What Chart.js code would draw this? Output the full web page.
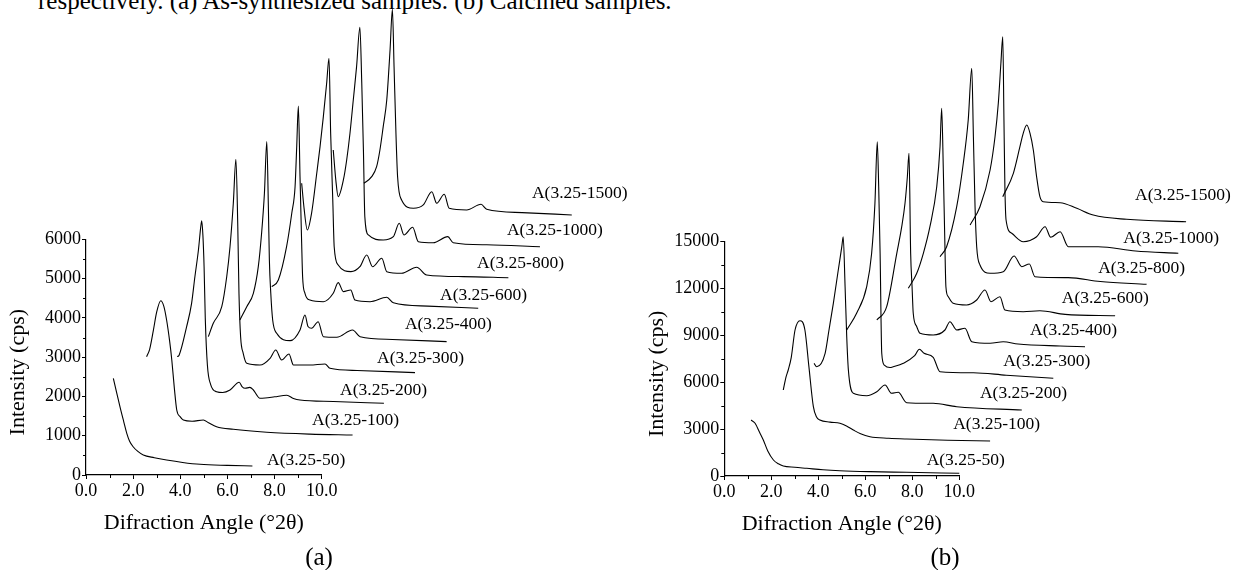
<!DOCTYPE html>
<html>
<head>
<meta charset="utf-8">
<script src="https://cdn.jsdelivr.net/npm/chart.js@4.4.0/dist/chart.umd.min.js"></script>
<style>
  body { margin: 0; background: #fff; width: 1233px; height: 570px; overflow: hidden; position: relative; }
  .cap { position: absolute; left: 38px; top: -12px; font: 25px/1 "Liberation Serif", serif; color: #000; white-space: nowrap; }
  .panel { position: absolute; top: 0; height: 570px; }
</style>
</head>
<body>
<div class="cap">respectively. (a) As-synthesized samples. (b) Calcined samples.</div>
<div class="panel" style="left:0;width:700px"><canvas id="chartA"></canvas></div>
<div class="panel" style="left:616px;width:617px"><canvas id="chartB"></canvas></div>
<script>
// sample names, same for both panels
var names = ['A(3.25-50)', 'A(3.25-100)', 'A(3.25-200)', 'A(3.25-300)', 'A(3.25-400)',
             'A(3.25-600)', 'A(3.25-800)', 'A(3.25-1000)', 'A(3.25-1500)'];

// tick labels
var xTicks = [0, 2, 4, 6, 8, 10];
var yTicksA = [0, 1000, 2000, 3000, 4000, 5000, 6000];
var yTicksB = [0, 3000, 6000, 9000, 12000, 15000];

// (a) as-synthesized, waterfall: [angle, cps]
var a50 = [[1.16,2462],[1.3,2100],[1.44,1740],[1.6,1360],[1.73,1060],[1.85,860],[2.0,720],[2.2,600],[2.43,509],[2.9,440],[3.42,382],[4.1,320],[4.84,272],[6.0,245],[7.06,229]];
var a100 = [[2.57,3012],[2.7,3200],[2.86,3690],[3.0,4150],[3.17,4437],[3.3,4300],[3.42,3946],[3.55,3400],[3.64,2928],[3.75,2200],[3.85,1655],[4.0,1480],[4.13,1400],[4.5,1370],[4.98,1400],[5.2,1330],[5.54,1230],[6.25,1163],[7.67,1087],[9.5,1040],[11.31,1018]];
var a200 = [[3.87,3012],[3.95,3050],[4.27,3776],[4.48,4371],[4.62,5048],[4.77,5728],[4.87,6321],[4.91,6474],[4.96,6100],[5.01,5300],[5.06,4000],[5.15,2800],[5.29,2300],[5.54,2121],[5.8,2100],[6.11,2164],[6.5,2360],[6.62,2250],[6.75,2207],[6.95,2230],[7.1,2164],[7.38,1953],[7.6,1960],[8.0,1990],[8.52,2030],[8.8,1950],[9.08,1909],[10.5,1870],[12.64,1825]];
var a300 = [[5.19,3521],[5.4,3862],[5.76,4285],[5.97,5048],[6.11,5812],[6.25,6917],[6.36,8037],[6.44,6321],[6.49,4626],[6.56,3521],[6.67,3098],[6.82,2844],[7.38,2800],[7.81,2971],[8.05,3182],[8.3,2928],[8.61,3080],[8.8,2800],[9.5,2800],[10.14,2826],[10.35,2716],[11.5,2660],[13.96,2605]];
var a400 = [[6.53,3946],[6.82,4285],[7.1,4626],[7.31,5303],[7.45,6154],[7.57,7172],[7.67,8486],[7.74,6746],[7.78,5473],[7.84,4626],[7.92,3946],[8.09,3607],[8.66,3420],[9.08,3692],[9.29,4073],[9.42,3780],[9.57,3735],[9.85,3903],[10.07,3521],[10.64,3505],[11.31,3692],[11.63,3521],[13.0,3450],[15.3,3394]];
var a600 = [[7.88,4794],[8.16,4964],[8.51,5812],[8.73,6662],[8.87,7340],[8.94,8358],[9.01,9394],[9.08,7594],[9.15,5899],[9.19,5048],[9.29,4626],[9.5,4455],[10.07,4412],[10.49,4626],[10.7,4896],[10.92,4667],[11.23,4710],[11.41,4455],[12.05,4412],[12.76,4524],[13.04,4386],[14.5,4300],[16.64,4244]];
var a800 = [[9.15,7426],[9.25,6800],[9.39,6237],[9.57,6662],[9.79,7681],[9.93,8358],[10.07,9122],[10.21,9972],[10.31,10608],[10.38,8699],[10.47,7001],[10.53,5812],[10.7,5346],[11.24,5176],[11.62,5303],[11.91,5601],[12.16,5303],[12.55,5517],[12.76,5176],[13.39,5135],[14.03,5288],[14.45,5092],[16.0,5050],[17.92,5023]];
var a1000 = [[10.49,8274],[10.6,7500],[10.7,7085],[10.92,7510],[11.06,8019],[11.2,8699],[11.34,9547],[11.48,10395],[11.62,11398],[11.7,9972],[11.77,8274],[11.83,6576],[11.98,6110],[12.61,5983],[13.04,6067],[13.29,6408],[13.49,6110],[13.86,6306],[14.1,5939],[14.73,5914],[15.35,6067],[15.58,5914],[17.0,5860],[19.26,5812]];
var a1500 = [[11.79,7426],[12.12,7594],[12.33,7849],[12.47,8274],[12.61,8868],[12.76,9547],[12.9,10820],[13.0,11856],[13.07,10395],[13.15,8699],[13.22,7594],[13.39,7001],[13.89,6789],[14.31,6874],[14.67,7212],[14.88,6917],[15.2,7146],[15.41,6789],[16.15,6746],[16.76,6891],[17.0,6764],[18.5,6680],[20.61,6619]];

// (b) calcined
var b50 = [[1.14,3585],[1.31,3374],[1.5,2800],[1.66,2305],[1.85,1600],[2.09,1024],[2.3,780],[2.51,640],[3.0,560],[3.51,493],[4.2,400],[4.92,339],[6.2,280],[7.76,237],[10.0,173]];
var b100 = [[2.51,5506],[2.62,6300],[2.72,6786],[2.85,7600],[3.01,9347],[3.22,9943],[3.43,9347],[3.6,7000],[3.79,4437],[3.92,3800],[4.07,3585],[4.5,3450],[4.92,3374],[5.2,3200],[5.49,2945],[5.8,2700],[6.2,2516],[7.0,2420],[7.76,2369],[9.5,2290],[11.31,2241]];
var b200 = [[3.82,7215],[3.93,6997],[4.29,7855],[4.45,9300],[4.64,11056],[4.85,13188],[5.0,14680],[5.06,15320],[5.14,12119],[5.21,8918],[5.28,6786],[5.49,5294],[6.06,5141],[6.49,5397],[6.84,5826],[7.12,5294],[7.4,5358],[7.76,4693],[8.89,4654],[9.89,4437],[12.66,4225]];
var b300 = [[5.21,9347],[5.63,10416],[6.06,12119],[6.27,14257],[6.41,17458],[6.51,21402],[6.57,18521],[6.63,14257],[6.7,7855],[6.81,7100],[7.05,6950],[7.19,6997],[7.62,7215],[8.1,7700],[8.3,8111],[8.5,7855],[8.89,7599],[9.18,6677],[10.6,6613],[12.0,6450],[14.0,6255]];
var b400 = [[6.49,9987],[6.91,10839],[7.34,14257],[7.55,15960],[7.69,17458],[7.79,19160],[7.86,20659],[7.93,14257],[7.99,12119],[8.04,10416],[8.19,9558],[8.33,9136],[8.89,9027],[9.39,9347],[9.6,9878],[9.89,9347],[10.24,9456],[10.53,8598],[11.31,8495],[11.87,8598],[12.5,8450],[14.29,8322],[15.35,8278]];
var b600 = [[7.83,12017],[8.19,12977],[8.47,14257],[8.75,15960],[9.04,18521],[9.18,21082],[9.25,23540],[9.32,19590],[9.38,15320],[9.43,12119],[9.53,11479],[9.74,11056],[10.31,10947],[10.74,11268],[11.09,11908],[11.35,11159],[11.73,11479],[11.94,10627],[12.72,10519],[13.43,10580],[14.5,10350],[16.63,10262]];
var b800 = [[9.18,14040],[9.46,14680],[9.89,17240],[10.17,20019],[10.38,22791],[10.53,26101],[10.6,21722],[10.67,17240],[10.74,14680],[10.88,13508],[11.31,12977],[11.87,13080],[12.33,14085],[12.66,13399],[12.98,13572],[13.22,12759],[14.64,12697],[16.0,12450],[17.97,12272]];
var b1000 = [[10.46,16069],[10.88,17240],[11.31,19590],[11.52,21722],[11.66,23860],[11.77,26421],[11.85,28124],[11.9,22791],[11.94,18521],[11.99,16389],[12.23,15538],[12.72,15000],[13.29,15320],[13.65,15960],[13.89,15282],[14.29,15640],[14.64,14680],[15.91,14680],[17.5,14400],[19.32,14257]];
var b1500 = [[11.85,17881],[12.3,19378],[12.58,21082],[12.72,21940],[12.87,22471],[13.01,21940],[13.15,20871],[13.29,19160],[13.43,17881],[13.57,17561],[14.29,17497],[15.0,17138],[15.7,16709],[17.12,16434],[19.65,16280]];

// where each sample name sits (data units)
var labXA = [7.68, 9.59, 10.78, 12.35, 13.53, 15.02, 16.59, 17.86, 18.92];
var labYA = [382, 1400, 2164, 2971, 3844, 4582, 5397, 6237, 7179];
var labXB = [8.61, 9.74, 10.88, 11.87, 13.01, 14.36, 15.91, 16.98, 17.48];
var labYB = [1024, 3329, 5294, 7318, 9347, 11377, 13297, 15218, 17990];

var serif = '"Liberation Serif", "Times New Roman", serif';

var decor = {
    id: 'decor',
    afterDraw: function(chart, args, o) {
        var ctx = chart.ctx, area = chart.chartArea;
        var xs = chart.scales.x, ys = chart.scales.y;
        ctx.save();
        ctx.strokeStyle = '#000';
        ctx.lineWidth = 1;
        ctx.beginPath();
        // minor ticks half way between the major ones
        for (var i = 0; i < xTicks.length - 1; i++) {
            var px = Math.round(xs.getPixelForValue((xTicks[i] + xTicks[i + 1]) / 2)) + 0.5;
            ctx.moveTo(px, area.bottom);
            ctx.lineTo(px, area.bottom + 3);
        }
        for (var j = 0; j < o.yTicks.length - 1; j++) {
            var py = Math.round(ys.getPixelForValue((o.yTicks[j] + o.yTicks[j + 1]) / 2)) + 0.5;
            ctx.moveTo(area.left, py);
            ctx.lineTo(area.left - 3, py);
        }
        ctx.stroke();

        ctx.fillStyle = '#000';
        ctx.font = '17.5px ' + serif;
        ctx.textAlign = 'left';
        ctx.textBaseline = 'middle';
        for (var k = 0; k < names.length; k++) {
            ctx.fillText(names[k], xs.getPixelForValue(o.labX[k]), ys.getPixelForValue(o.labY[k]));
        }

        ctx.font = '22px ' + serif;
        ctx.textAlign = 'center';
        ctx.fillText('Difraction Angle (\u00b02\u03b8)', (area.left + area.right) / 2, area.bottom + 48.5);
        ctx.save();
        ctx.translate(area.left - 67.5, (area.top + area.bottom) / 2 + 15);
        ctx.rotate(-Math.PI / 2);
        ctx.fillText('Intensity (cps)', 0, 0);
        ctx.restore();

        ctx.font = '25px ' + serif;
        ctx.fillText(o.panel, o.panelX, 558);
        ctx.restore();
    }
};

function makeChart(id, series, yTicks, yStep, yMax, box, labX, labY, panel, panelX) {
    var datasets = series.map(function(s, i) {
        return {
            label: names[i],
            data: s.map(function(p) { return {x: p[0], y: p[1]}; }),
            borderColor: '#000',
            borderWidth: 1.1,
            pointRadius: 0,
            cubicInterpolationMode: 'monotone',
            clip: false
        };
    });
    return new Chart(document.getElementById(id), {
        type: 'line',
        data: { datasets: datasets },
        options: {
            responsive: true,
            maintainAspectRatio: false,
            animation: false,
            layout: { padding: { left: 0, top: box.top, right: box.right, bottom: 0 } },
            plugins: {
                legend: { display: false },
                tooltip: { enabled: false },
                decor: { yTicks: yTicks, labX: labX, labY: labY, panel: panel, panelX: panelX }
            },
            scales: {
                x: {
                    type: 'linear',
                    bounds: 'data',
                    afterDataLimits: function(s) { s.min = 0; s.max = 10; },
                    afterBuildTicks: function(s) {
                        s.ticks = xTicks.map(function(v) { return {value: v}; });
                        s.min = 0; s.max = 10;
                    },
                    afterFit: function(s) { s.height = box.xh; },
                    grid: { drawOnChartArea: false, tickLength: 4, color: '#000' },
                    border: { color: '#000', width: 1.2 },
                    ticks: {
                        stepSize: 2, autoSkip: false, maxRotation: 0, padding: 1, color: '#000',
                        font: { family: serif, size: 18 },
                        callback: function(v) { return v.toFixed(1); }
                    }
                },
                y: {
                    type: 'linear',
                    bounds: 'data',
                    afterDataLimits: function(s) { s.min = 0; s.max = yMax; },
                    afterBuildTicks: function(s) {
                        s.ticks = yTicks.map(function(v) { return {value: v}; });
                        s.min = 0; s.max = yMax;
                    },
                    afterFit: function(s) { s.width = box.yw; },
                    grid: { drawOnChartArea: false, tickLength: 4, color: '#000' },
                    border: { color: '#000', width: 1.2 },
                    ticks: {
                        stepSize: yStep, padding: 1, color: '#000',
                        font: { family: serif, size: 18 },
                        callback: function(v) { return String(v); }
                    }
                }
            }
        },
        plugins: [decor]
    });
}

makeChart('chartA', [a50, a100, a200, a300, a400, a600, a800, a1000, a1500], yTicksA, 1000, 6000,
          { top: 239.3, right: 700 - 321.7, xh: 95, yw: 86 }, labXA, labYA, '(a)', 319);
makeChart('chartB', [b50, b100, b200, b300, b400, b600, b800, b1000, b1500], yTicksB, 3000, 15000,
          { top: 241.7, right: 273.7, xh: 94, yw: 108.3 }, labXB, labYB, '(b)', 329);
</script>
</body>
</html>
